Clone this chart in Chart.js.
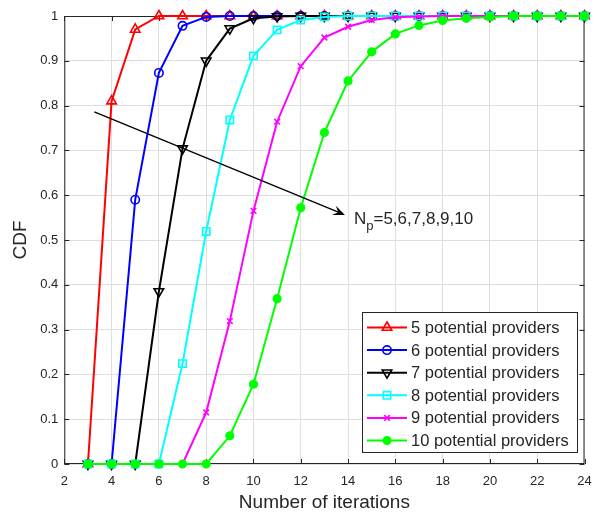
<!DOCTYPE html>
<html><head><meta charset="utf-8">
<script src="https://cdn.jsdelivr.net/npm/chart.js@4.4.1/dist/chart.umd.min.js"></script>
<style>html,body{margin:0;padding:0;background:#fff}#wrap{width:602px;height:513px;position:relative}</style>
</head><body><div id="wrap"><canvas id="c" width="602" height="513"></canvas></div>
<script>
const iterations = [3,4,5,6,7,8,9,10,11,12,13,14,15,16,17,18,19,20,21,22,23,24];
const cdf5  = [0,0.81,0.97,1,1,1,1,1,1,1,1,1,1,1,1,1,1,1,1,1,1,1];
const cdf6  = [0,0,0.59,0.873,0.978,0.998,1,1,1,1,1,1,1,1,1,1,1,1,1,1,1,1];
const cdf7  = [0,0,0,0.385,0.704,0.900,0.972,0.995,0.999,1,1,1,1,1,1,1,1,1,1,1,1,1];
const cdf8  = [0,0,0,0,0.224,0.519,0.768,0.911,0.969,0.991,0.998,1,1,1,1,1,1,1,1,1,1,1];
const cdf9  = [0,0,0,0,0,0.115,0.319,0.565,0.764,0.888,0.952,0.976,0.991,0.997,0.999,1,1,1,1,1,1,1];
const cdf10 = [0,0,0,0,0,0,0.063,0.178,0.369,0.572,0.740,0.855,0.920,0.960,0.979,0.990,0.995,0.998,1,1,1,1];
const seriesLabels = ['5 potential providers','6 potential providers','7 potential providers','8 potential providers','9 potential providers','10 potential providers'];
const xTicks = [2,4,6,8,10,12,14,16,18,20,22,24];
const yTicks = [0,0.1,0.2,0.3,0.4,0.5,0.6,0.7,0.8,0.9,1];
const xTitle = 'Number of iterations';
const yTitle = 'CDF';
const annotationText = ['N','p','=5,6,7,8,9,10'];
const arrowFrom = {x:3.27, y:0.786};
const arrowTo = {x:13.87, y:0.556};
const textAt = {x:14.25, y:0.548};

const allSeries = [cdf5,cdf6,cdf7,cdf8,cdf9,cdf10];
const styles = [
  {color:'#ff0000', pointStyle:'triangle', radius:5.5, rotation:0, fill:false},
  {color:'#0000ff', pointStyle:'circle', radius:4.2, rotation:0, fill:false},
  {color:'#000000', pointStyle:'triangle', radius:5.5, rotation:180, fill:false},
  {color:'#00ffff', pointStyle:'rect', radius:5.2, rotation:0, fill:false},
  {color:'#ff00ff', pointStyle:'crossRot', radius:4, rotation:0, fill:false},
  {color:'#00ff00', pointStyle:'circle', radius:3.8, rotation:0, fill:true}
];
const axisColor = '#262626';
const gridColor = '#dedede';
const FONT = '"Liberation Sans", Arial, Helvetica, sans-serif';

const datasets = allSeries.map((vals, i) => ({
  label: seriesLabels[i],
  data: iterations.map((x, j) => ({x: x, y: vals[j]})),
  borderColor: styles[i].color,
  backgroundColor: styles[i].color,
  borderWidth: 2,
  pointStyle: styles[i].pointStyle,
  pointRadius: styles[i].radius,
  pointRotation: styles[i].rotation,
  pointBorderWidth: 1.6,
  pointBorderColor: styles[i].color,
  pointBackgroundColor: styles[i].fill ? styles[i].color : 'rgba(0,0,0,0)',
  pointHoverRadius: styles[i].radius,
  tension: 0,
  clip: false,
  order: 6 - i
}));

const frame = {
  id: 'frame',
  beforeDatasetsDraw(chart) {
    const {ctx, chartArea: a, scales: {x, y}} = chart;
    ctx.save();
    ctx.strokeStyle = axisColor;
    ctx.lineWidth = 1;
    ctx.strokeRect(a.left + 0.5, a.top + 0.5, a.right - a.left - 1, a.bottom - a.top - 1);
    const tl = 5;
    ctx.beginPath();
    xTicks.forEach(v => {
      const px = Math.round(x.getPixelForValue(v)) + 0.5;
      ctx.moveTo(px, a.bottom); ctx.lineTo(px, a.bottom - tl);
      ctx.moveTo(px, a.top); ctx.lineTo(px, a.top + tl);
    });
    yTicks.forEach(v => {
      const py = Math.round(y.getPixelForValue(v)) + 0.5;
      ctx.moveTo(a.left, py); ctx.lineTo(a.left + tl, py);
      ctx.moveTo(a.right, py); ctx.lineTo(a.right - tl, py);
    });
    ctx.stroke();
    ctx.restore();
  }
};

const overlay = {
  id: 'overlay',
  afterDraw(chart) {
    const {ctx, scales: {x, y}} = chart;
    ctx.save();
    // annotation arrow
    const x1 = x.getPixelForValue(arrowFrom.x), y1 = y.getPixelForValue(arrowFrom.y);
    const x2 = x.getPixelForValue(arrowTo.x), y2 = y.getPixelForValue(arrowTo.y);
    const ang = Math.atan2(y2 - y1, x2 - x1);
    const hl = 12, hw = 5;
    ctx.strokeStyle = '#000'; ctx.fillStyle = '#000'; ctx.lineWidth = 1.3;
    ctx.beginPath();
    ctx.moveTo(x1, y1);
    ctx.lineTo(x2 - Math.cos(ang) * hl * 0.6, y2 - Math.sin(ang) * hl * 0.6);
    ctx.stroke();
    ctx.beginPath();
    ctx.moveTo(x2, y2);
    const bx = x2 - Math.cos(ang) * hl, by = y2 - Math.sin(ang) * hl;
    ctx.lineTo(bx + Math.sin(ang) * hw, by - Math.cos(ang) * hw);
    ctx.lineTo(x2 - Math.cos(ang) * hl * 0.6, y2 - Math.sin(ang) * hl * 0.6);
    ctx.lineTo(bx - Math.sin(ang) * hw, by + Math.cos(ang) * hw);
    ctx.closePath();
    ctx.fill();
    // annotation text
    let tx = x.getPixelForValue(textAt.x);
    const ty = y.getPixelForValue(textAt.y);
    ctx.fillStyle = axisColor;
    ctx.textBaseline = 'alphabetic';
    ctx.textAlign = 'left';
    ctx.font = '17px ' + FONT;
    ctx.fillText(annotationText[0], tx, ty + 6);
    tx += ctx.measureText(annotationText[0]).width;
    ctx.font = '13px ' + FONT;
    ctx.fillText(annotationText[1], tx, ty + 12);
    tx += ctx.measureText(annotationText[1]).width;
    ctx.font = '17px ' + FONT;
    ctx.fillText(annotationText[2], tx, ty + 6);

    // legend
    const L = {left: 362.5, top: 312.5, right: 577.5, bottom: 452.5};
    ctx.fillStyle = '#fff';
    ctx.fillRect(L.left, L.top, L.right - L.left, L.bottom - L.top);
    ctx.strokeStyle = axisColor; ctx.lineWidth = 1;
    ctx.strokeRect(L.left, L.top, L.right - L.left, L.bottom - L.top);
    const rowH = 22.6, firstY = 327.5;
    chart.data.datasets.forEach((ds, i) => {
      const ry = firstY + i * rowH;
      ctx.strokeStyle = ds.borderColor; ctx.lineWidth = 2;
      ctx.beginPath(); ctx.moveTo(367, ry); ctx.lineTo(407, ry); ctx.stroke();
      ctx.fillStyle = ds.pointBackgroundColor;
      ctx.strokeStyle = ds.pointBorderColor;
      ctx.lineWidth = ds.pointBorderWidth;
      Chart.helpers.drawPoint(ctx, {pointStyle: ds.pointStyle, radius: ds.pointRadius, rotation: ds.pointRotation, borderWidth: ds.pointBorderWidth}, 387, ry);
      ctx.fillStyle = axisColor;
      ctx.font = '16.5px ' + FONT;
      ctx.textBaseline = 'middle';
      ctx.fillText(ds.label, 411, ry + 1);
    });
    ctx.restore();
  }
};

new Chart(document.getElementById('c'), {
  type: 'line',
  data: {datasets: datasets},
  options: {
    responsive: false,
    animation: false,
    events: [],
    layout: {padding: {top: 16, right: 17.5, left: 0, bottom: 0}},
    plugins: {legend: {display: false}, tooltip: {enabled: false}},
    scales: {
      x: {
        type: 'linear', min: 2, max: 24,
        afterBuildTicks(s) { s.ticks = xTicks.map(v => ({value: v})); },
        afterFit(s) { s.height = 49; },
        ticks: {color: axisColor, font: {family: FONT, size: 13}, padding: 10, maxRotation: 0, autoSkip: false},
        grid: {color: gridColor, drawTicks: false},
        border: {display: false},
        title: {display: true, text: xTitle, color: axisColor, font: {family: FONT, size: 19, lineHeight: 1}, padding: {top: 0, bottom: 1}}
      },
      y: {
        type: 'linear', min: 0, max: 1,
        afterBuildTicks(s) { s.ticks = yTicks.map(v => ({value: v})); },
        afterFit(s) { s.width = 64.3; },
        ticks: {color: axisColor, font: {family: FONT, size: 13}, padding: 6, autoSkip: false,
          callback: v => (v === 0 || v === 1) ? String(v) : v.toFixed(1)},
        grid: {color: gridColor, drawTicks: false},
        border: {display: false},
        title: {display: true, text: yTitle, color: axisColor, font: {family: FONT, size: 19, lineHeight: 1}, padding: {top: 11.5, bottom: 0}}
      }
    }
  },
  plugins: [frame, overlay]
});
</script>
</body></html>
